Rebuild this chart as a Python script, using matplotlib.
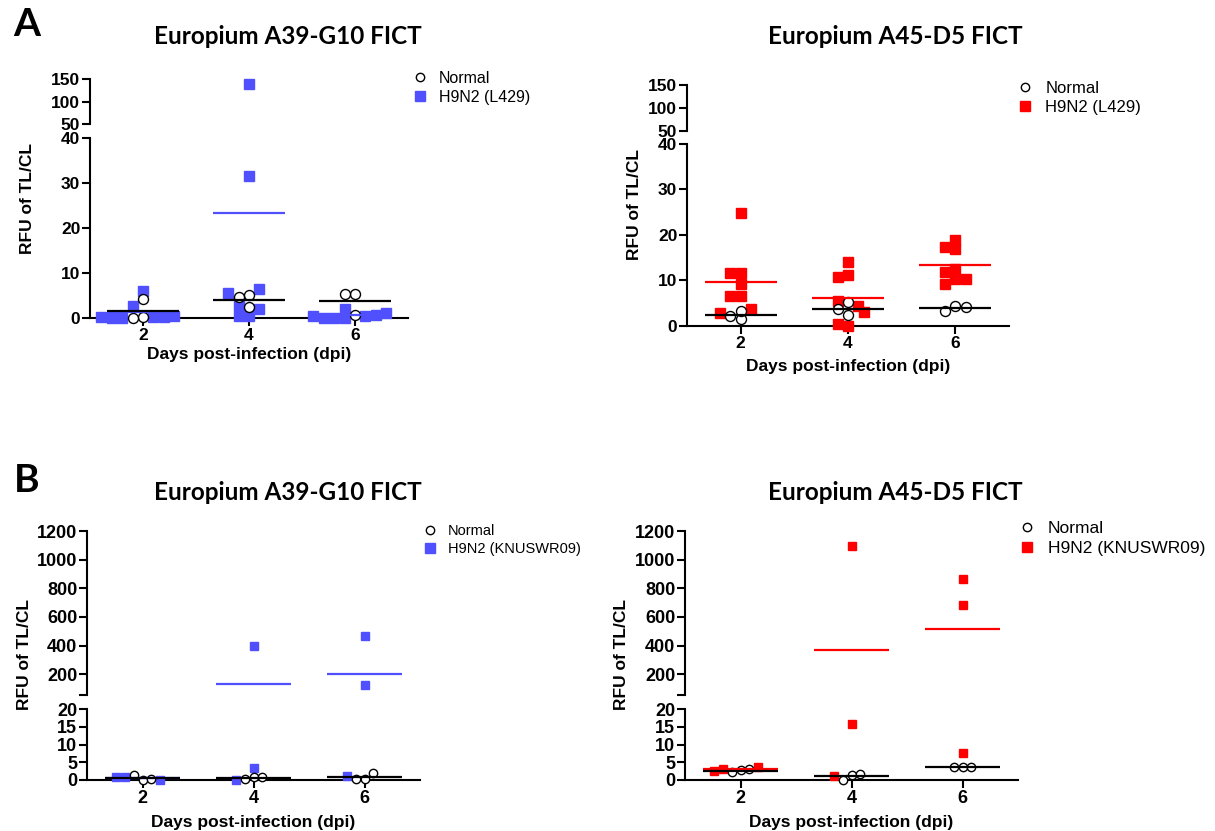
import numpy as np
import matplotlib

matplotlib.use('Agg')
import matplotlib.pyplot as plt
from matplotlib.lines import Line2D

plt.rcParams['font.family'] = ['Liberation Sans', 'DejaVu Sans']

# Données (RFU of TL/CL)
DAYS = [2, 4, 6]

# A - Europium A39-G10 FICT, H9N2 (L429)
a39_normal = [[4.2, 0.2, 0.0], [5.2, 4.7, 2.4], [5.3, 5.3, 0.7]]
a39_h9n2 = [[6.1, 2.7, 0.3, 0.1, 0.2, 0.0, 0.4, 0.2],
            [138, 31.6, 6.4, 5.6, 2.7, 2.0, 0.5, 0.5],
            [2.1, 0.5, 0.0, 0.0, 0.7, 0.0, 1.1, 0.5]]

# A - Europium A45-D5 FICT, H9N2 (L429)
a45_normal = [[1.5, 2.3, 3.4], [5.3, 2.4, 3.7], [4.4, 3.3, 4.2]]
a45_h9n2 = [[24.9, 11.6, 11.6, 9.2, 6.7, 6.7, 3.7, 2.9],
            [14.1, 11.1, 10.7, 5.6, 4.5, 3.0, 0.0, 0.4],
            [19.0, 17.3, 17.0, 12.6, 11.9, 10.3, 10.4, 9.2]]

# B - Europium A39-G10 FICT, H9N2 (KNUSWR09)
b39_normal = [[0.1, 1.4, 0.3], [0.75, 0.3, 0.9], [0.3, 0.3, 2.0]]
b39_h9n2 = [[0.75, 0.1, 0.75], [397, 3.3, 0.1], [469, 128, 1.0]]

# B - Europium A45-D5 FICT, H9N2 (KNUSWR09)
b45_normal = [[2.7, 2.2, 3.1], [1.4, 0.1, 1.7], [3.6, 3.6, 3.6]]
b45_h9n2 = [[3.1, 3.8, 2.4], [1093, 15.9, 1.2], [866, 680, 7.6]]

BLUE = '#5050ff'
RED = '#ff0000'
W, H = 1215, 831

fig = plt.figure(figsize=(W / 100, H / 100), dpi=100)


def px_axes(x0, x1, y0, y1):
    return fig.add_axes([x0 / W, 1 - y1 / H, (x1 - x0) / W, (y1 - y0) / H])


def style_ticks(ax, size):
    ax.tick_params(axis='both', direction='out', length=6, width=1.5, labelsize=size, pad=1)
    for lab in ax.get_xticklabels() + ax.get_yticklabels():
        lab.set_fontweight('bold')


def swarm(ax_low, ax_top, split, day, vals, placed, d):
    """petit beeswarm en pixels (chevauchement partiel autorisé), retourne les x en données"""
    xs = []
    step = d * 0.5
    for v in vals:
        ax = ax_top if v > split else ax_low
        xp, yp = ax.transData.transform((day, v))
        for k in [0, -2, 2, -1, 1, -3, 3, -4, 4, -5, 5, -6, 6, -7, 7, -8, 8]:
            x = xp + k * step
            if all(np.hypot(x - p[0], yp - p[1]) >= d * 0.8 for p in placed):
                break
        placed.append((x, yp))
        xs.append(ax.transData.inverted().transform((x, yp))[0])
    return xs


def panel(xr, top_px, low_px, top_lim, low_lim, top_ticks, top_labels, low_ticks,
          normal, h9n2, color, msize, label_size):
    ax_top = px_axes(xr[0], xr[1], top_px[0], top_px[1])
    ax_low = px_axes(xr[0], xr[1], low_px[0], low_px[1])
    for ax in (ax_top, ax_low):
        ax.set_xlim(1, 7)
        ax.patch.set_alpha(0)
        for s in ['top', 'right']:
            ax.spines[s].set_visible(False)
        ax.spines['left'].set_linewidth(1.5)
        ax.spines['bottom'].set_linewidth(1.5)
    ax_top.spines['bottom'].set_visible(False)
    ax_top.set_xticks([])
    ax_top.set_ylim(*top_lim)
    ax_top.set_yticks(top_ticks)
    ax_top.set_yticklabels(top_labels)
    ax_low.set_ylim(*low_lim)
    ax_low.set_yticks(low_ticks)
    ax_low.set_xticks(DAYS)
    style_ticks(ax_top, label_size)
    style_ticks(ax_low, label_size)

    split = low_lim[1]
    d = msize * 1.45
    for i, day in enumerate(DAYS):
        placed = []
        xn = swarm(ax_low, ax_top, split, day, normal[i], placed, d)
        xh = swarm(ax_low, ax_top, split, day, h9n2[i], placed, d)
        for vals, xs, kind in [(normal[i], xn, 'n'), (h9n2[i], xh, 'h')]:
            for x, v in zip(xs, vals):
                ax = ax_top if v > split else ax_low
                if kind == 'n':
                    ax.plot(x, v, 'o', ms=msize, mfc='white', mec='black', mew=1.0,
                            clip_on=False, zorder=4)
                else:
                    ax.plot(x, v, 's', ms=msize, color=color, clip_on=False, zorder=3)
        # lignes de moyenne
        for vals, c in [(h9n2[i], color), (normal[i], 'black')]:
            m = np.mean(vals)
            ax = ax_top if m > split else ax_low
            ax.plot([day - 0.67, day + 0.67], [m, m], color=c, lw=1.6, zorder=5,
                    solid_capstyle='butt')
    return ax_top, ax_low


def legend(x, y, color, text2, fs):
    handles = [Line2D([], [], marker='o', ls='none', ms=6, mfc='white', mec='black', mew=1.0),
               Line2D([], [], marker='s', ls='none', ms=6.5, color=color)]
    fig.legend(handles, ['Normal', text2], loc='upper left', bbox_to_anchor=(x / W, 1 - y / H),
               frameon=False, fontsize=fs, handlelength=1.0, handletextpad=0.7,
               borderpad=0, borderaxespad=0, labelspacing=0.25)


# ---- Panneaux A ----
panel((90, 408), (79, 124), (138, 318), (50, 150), (0, 40), [50, 100, 150],
      ['50', '100', '150'], [0, 10, 20, 30, 40], a39_normal, a39_h9n2, BLUE, 7.2, 12.5)
panel((687, 1009), (85, 131), (144, 326), (50, 150), (0, 40), [50, 100, 150],
      ['50', '100', '150'], [0, 10, 20, 30, 40], a45_normal, a45_h9n2, RED, 7.2, 12.5)

# ---- Panneaux B ----
btop = [55, 200, 400, 600, 800, 1000, 1200]
blab = ['', '200', '400', '600', '800', '1000', '1200']
panel((87, 420), (531, 695), (709, 780), (55, 1200), (0, 20), btop, blab,
      [0, 5, 10, 15, 20], b39_normal, b39_h9n2, BLUE, 6.0, 13)
panel((685, 1018), (531, 695), (709, 780), (55, 1200), (0, 20), btop, blab,
      [0, 5, 10, 15, 20], b45_normal, b45_h9n2, RED, 6.0, 13)

# légendes
legend(412, 71, BLUE, 'H9N2 (L429)', 11.5)
legend(1017, 81, RED, 'H9N2 (L429)', 12)
legend(423, 524, BLUE, 'H9N2 (KNUSWR09)', 10.5)
legend(1018, 521, RED, 'H9N2 (KNUSWR09)', 12.5)

# titres, lettres et labels d'axes
for cx, cy, t in [(288, 37, 'Europium A39-G10 FICT'), (895, 37, 'Europium A45-D5 FICT'),
                  (288, 493, 'Europium A39-G10 FICT'), (895, 493, 'Europium A45-D5 FICT')]:
    fig.text(cx / W, 1 - cy / H, t, ha='center', va='center', fontsize=17.5,
             fontweight='bold', family=['Lato', 'DejaVu Sans'])
fig.text(27 / W, 1 - 24 / H, 'A', ha='center', va='center', fontsize=28, fontweight='bold',
         family=['Lato', 'DejaVu Sans'])
fig.text(27 / W, 1 - 480 / H, 'B', ha='center', va='center', fontsize=28, fontweight='bold',
         family=['Lato', 'DejaVu Sans'])

for cx, cy in [(28, 198), (635, 205), (25, 655), (622, 655)]:
    fig.text(cx / W, 1 - cy / H, 'RFU of TL/CL', rotation=90, ha='center', va='center',
             fontsize=12.5, fontweight='bold')
for cx, cy in [(249, 355), (848, 367), (253, 823), (851, 823)]:
    fig.text(cx / W, 1 - cy / H, 'Days post-infection (dpi)', ha='center', va='center',
             fontsize=12.5, fontweight='bold')

fig.savefig('out.png', dpi=100)
